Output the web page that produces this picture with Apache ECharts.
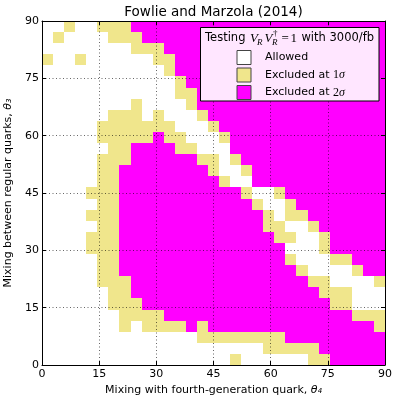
<!DOCTYPE html>
<html>
<head>
<meta charset="utf-8">
<script src="https://cdn.jsdelivr.net/npm/echarts@6/dist/echarts.min.js"></script>
<style>
  html, body { margin: 0; padding: 0; background: #fff; }
  #main { width: 398px; height: 405px; }
</style>
</head>
<body>
<div id="main"></div>
<script>
// scan result, one string per row, top row is theta3 ~ 90, first char is theta4 ~ 0
// 0 = allowed, 1 = excluded at 1 sigma, 2 = excluded at 2 sigma
const rows = [
  "0010011122222222222222222222222",
  "0100001112222222222222222222222",
  "0000000011122222222222222222222",
  "1001000000112222222222222222222",
  "0000000000012222222222222222222",
  "0000000000001222222222222222222",
  "0000000000001122222222222222222",
  "0000000010000122222222222222222",
  "0000001110100012222222222222222",
  "0000011111110001222222222222222",
  "0000011111211000122222222222222",
  "0000001122221100022222222222222",
  "0000011122222211012222222222222",
  "0000011222222221001222222222222",
  "0000011222222222100222222222222",
  "0000111222222222221001222222222",
  "0000011222222222222100122222222",
  "0000111222222222222210112222222",
  "0000011222222222222211001222222",
  "0000111222222222222221100122222",
  "0000111222222222222222000122222",
  "0000011222222222222222100011222",
  "0000011222222222222222210000122",
  "0000011122222222222222221100001",
  "0000001122222222222222222111000",
  "0000001112222222222222222211000",
  "0000000111122222222222222222111",
  "0000000101111212222222222222221",
  "0000000000000011111111222222222",
  "0000000000000000000011111222222",
  "0000000000000000010000001122222"
];
const ticks = [0, 15, 30, 45, 60, 75, 90];
const classNames = ["Allowed", "Excluded at 1σ", "Excluded at 2σ"];
const classColors = ["#ffffff", "#f0e68c", "#ff00ff"];

const span = ticks[ticks.length - 1] - ticks[0];
const step = span / rows.length;

// split cells by class, each cell given by its lower-left corner (theta4, theta3)
const cells = classNames.map(() => []);
rows.forEach((row, r) => {
  const j = rows.length - 1 - r;
  for (let i = 0; i < row.length; i++) {
    cells[+row[i]].push([i * step, j * step]);
  }
});

function renderCell(params, api) {
  const x0 = api.value(0), y0 = api.value(1);
  const a = api.coord([x0, y0]);
  const b = api.coord([x0 + step, y0 + step]);
  const x = Math.round(a[0]), y = Math.round(b[1]);
  return {
    type: "rect",
    shape: { x: x, y: y, width: Math.round(b[0]) - x, height: Math.round(a[1]) - y },
    style: { fill: api.visual("color") }
  };
}

const font = "DejaVu Sans";
const mathFont = "Liberation Serif";

const baseAxis = {
  type: "value",
  min: ticks[0],
  max: ticks[ticks.length - 1],
  interval: ticks[1] - ticks[0],
  z: 5,
  axisLine: { show: true, onZero: false, lineStyle: { color: "#000", width: 1 } },
  axisTick: { show: true, inside: true, length: 4, lineStyle: { color: "#000" } },
  axisLabel: { show: false },
  splitLine: { show: false }
};
const gridLines = {
  show: true,
  showMinLine: false,
  showMaxLine: false,
  lineStyle: { color: "#000", width: 0.8, opacity: 0.75, type: [1, 2.5] }
};
const tickLabel = { show: true, fontSize: 11, fontFamily: font, color: "#000" };
const nameStyle = {
  fontSize: 11, fontFamily: font, color: "#000",
  rich: { t: { fontSize: 11, fontFamily: font, fontStyle: "italic", color: "#000" } }
};

// small helper for the legend heading pieces
function txt(text, x, y, f, extra) {
  return { type: "text", z: 20, style: Object.assign({ text: text, x: x, y: y, verticalAlign: "middle", font: f, fill: "#000" }, extra || {}) };
}

const chart = echarts.init(document.getElementById("main"));
chart.setOption({
  animation: false,
  backgroundColor: "#fff",
  grid: { left: 42, top: 21, width: 343, height: 344, containLabel: false, outerBoundsMode: "none" },
  xAxis: [
    Object.assign({}, baseAxis, {
      position: "bottom",
      axisLabel: Object.assign({ margin: 4 }, tickLabel),
      splitLine: gridLines,
      name: "Mixing with fourth-generation quark, {t|θ₄}",
      nameLocation: "middle",
      nameGap: 19,
      nameTextStyle: nameStyle
    }),
    Object.assign({}, baseAxis, { position: "top" })
  ],
  yAxis: [
    Object.assign({}, baseAxis, {
      position: "left",
      axisLabel: Object.assign({ margin: 3 }, tickLabel),
      splitLine: gridLines,
      name: "Mixing between regular quarks, {t|θ₃}",
      nameLocation: "middle",
      nameGap: 23,
      nameTextStyle: nameStyle
    }),
    Object.assign({}, baseAxis, { position: "right" })
  ],
  legend: {
    orient: "vertical",
    left: 236.5,
    top: 50,
    padding: 0,
    z: 20,
    selectedMode: false,
    itemWidth: 14,
    itemHeight: 14,
    itemGap: 2.5,
    icon: "rect",
    itemStyle: { borderColor: "#444", borderWidth: 1 },
    data: classNames,
    formatter: (n) => n.replace(/(\d)σ/, "{m|$1}{s|σ}"),
    textStyle: {
      fontSize: 11, fontFamily: font, color: "#000", padding: [0, 0, 0, 9],
      rich: {
        m: { fontSize: 12, fontFamily: mathFont, color: "#000" },
        s: { fontSize: 12, fontFamily: mathFont, fontStyle: "italic", color: "#000" }
      }
    }
  },
  graphic: [
    txt("Fowlie and Marzola (2014)", 213.5, 12.5, "13.5px " + font, { align: "center" }),
    {
      type: "rect", z: 10,
      shape: { x: 200.5, y: 27.5, width: 178.5, height: 73.5 },
      style: { fill: "#ffe6ff", stroke: "#000", lineWidth: 1 }
    },
    txt("Testing", 205, 38.5, "11.5px " + font),
    txt("V", 250, 38.5, "italic 13px " + mathFont),
    txt("R", 257, 42.5, "italic 9px " + mathFont),
    txt("V", 264.5, 38.5, "italic 13px " + mathFont),
    txt("†", 273, 33.5, "9px " + mathFont),
    txt("R", 272, 42.5, "italic 9px " + mathFont),
    txt("=", 281.5, 38.5, "13px " + mathFont),
    txt("1", 290.5, 38.5, "13px " + mathFont),
    txt("with 3000/fb", 374, 38.5, "11.5px " + font, { align: "right" })
  ],
  series: classNames.map((name, k) => ({
    type: "custom",
    name: name,
    z: 2,
    clip: true,
    renderItem: renderCell,
    encode: { x: 0, y: 1 },
    itemStyle: { color: classColors[k] },
    data: cells[k]
  }))
});
</script>
</body>
</html>
